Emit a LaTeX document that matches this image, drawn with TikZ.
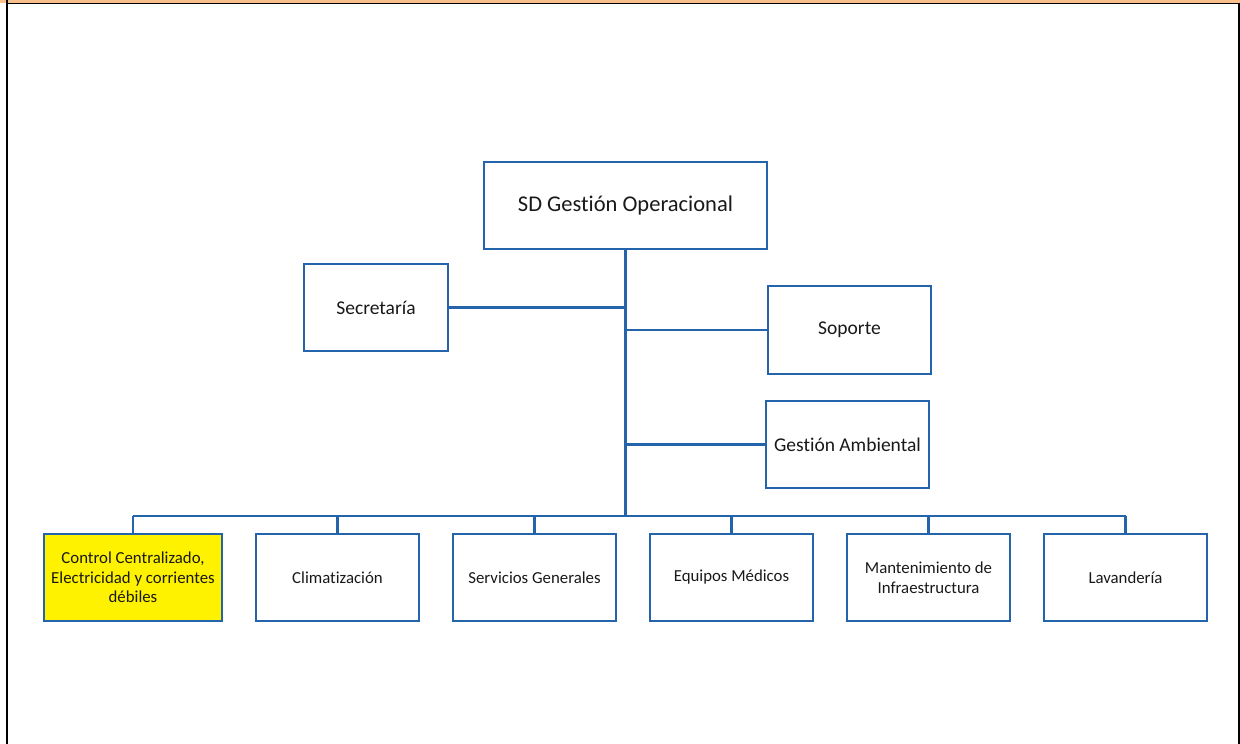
\documentclass[tikz,border=0pt]{standalone}
\usepackage{fontspec}
\setmainfont[Ligatures={NoCommon,NoDiscretionary,NoRare}]{Carlito}
\definecolor{boxblue}{RGB}{36,100,170}
\definecolor{topor}{RGB}{250,192,140}
\begin{document}
\begin{tikzpicture}[x=1pt,y=-1pt,
  box/.style={draw=boxblue,line width=2pt,fill=white,rectangle,inner sep=0pt,align=center,text=black!90},
  link/.style={draw=boxblue,line width=2.4pt}]
\useasboundingbox (0,0) rectangle (1240,744);
% frame
\fill[topor] (0,0) rectangle (1240,2.6);
\draw[black,line width=1.4pt] (6,3.2) -- (1240,3.2);
\draw[black,line width=2.2pt] (7,0) -- (7,744);
\draw[black,line width=2.2pt] (1238.6,2.5) -- (1238.6,744);
% nodes
\node[box,minimum width=283pt,minimum height=87pt,font=\fontsize{22.5}{26}\selectfont] (sd) at (625.5,205.5) {SD Gestión Operacional};
\node[box,minimum width=144pt,minimum height=87pt,font=\fontsize{19.5}{23}\selectfont] (sec) at (376,307.5) {Secretaría};
\node[box,minimum width=163pt,minimum height=88pt,font=\fontsize{19.5}{23}\selectfont] (sop) at (849.5,330) {Soporte};
\node[box,minimum width=163pt,minimum height=87pt,font=\fontsize{19.5}{23}\selectfont] (amb) at (847.5,444.5) {Gestión Ambiental};
\tikzset{bbox/.style={box,minimum width=163pt,minimum height=87pt,font=\fontsize{16.8}{19.5}\selectfont}}
\node[bbox,minimum width=178pt,fill=yellow] (b1) at (133,577.5) {Control Centralizado,\\Electricidad y corrientes\\débiles};
\node[bbox] (b2) at (337.5,577.5) {Climatización};
\node[bbox] (b3) at (534.5,577.5) {Servicios Generales};
\node[bbox] (b4) at (731.5,577.5) {Equipos Médicos};
\node[bbox] (b5) at (928.5,577.5) {Mantenimiento de\\Infraestructura};
\node[bbox] (b6) at (1125.5,577.5) {Lavandería};
% connectors
\coordinate (bus) at (625.5,516);
\draw[link] (sd.south) -- (bus);
\draw[link] (sec.east) -- (sec.east -| bus);
\draw[link] (sop.west) -- (sop.west -| bus);
\draw[link] (amb.west) -- (amb.west -| bus);
\draw[link] (b1.north |- bus) -- (b6.north |- bus);
\foreach \b in {b1,b2,b3,b4,b5,b6}{\draw[link] (\b.north |- bus) -- (\b.north);}
\end{tikzpicture}
\end{document}
